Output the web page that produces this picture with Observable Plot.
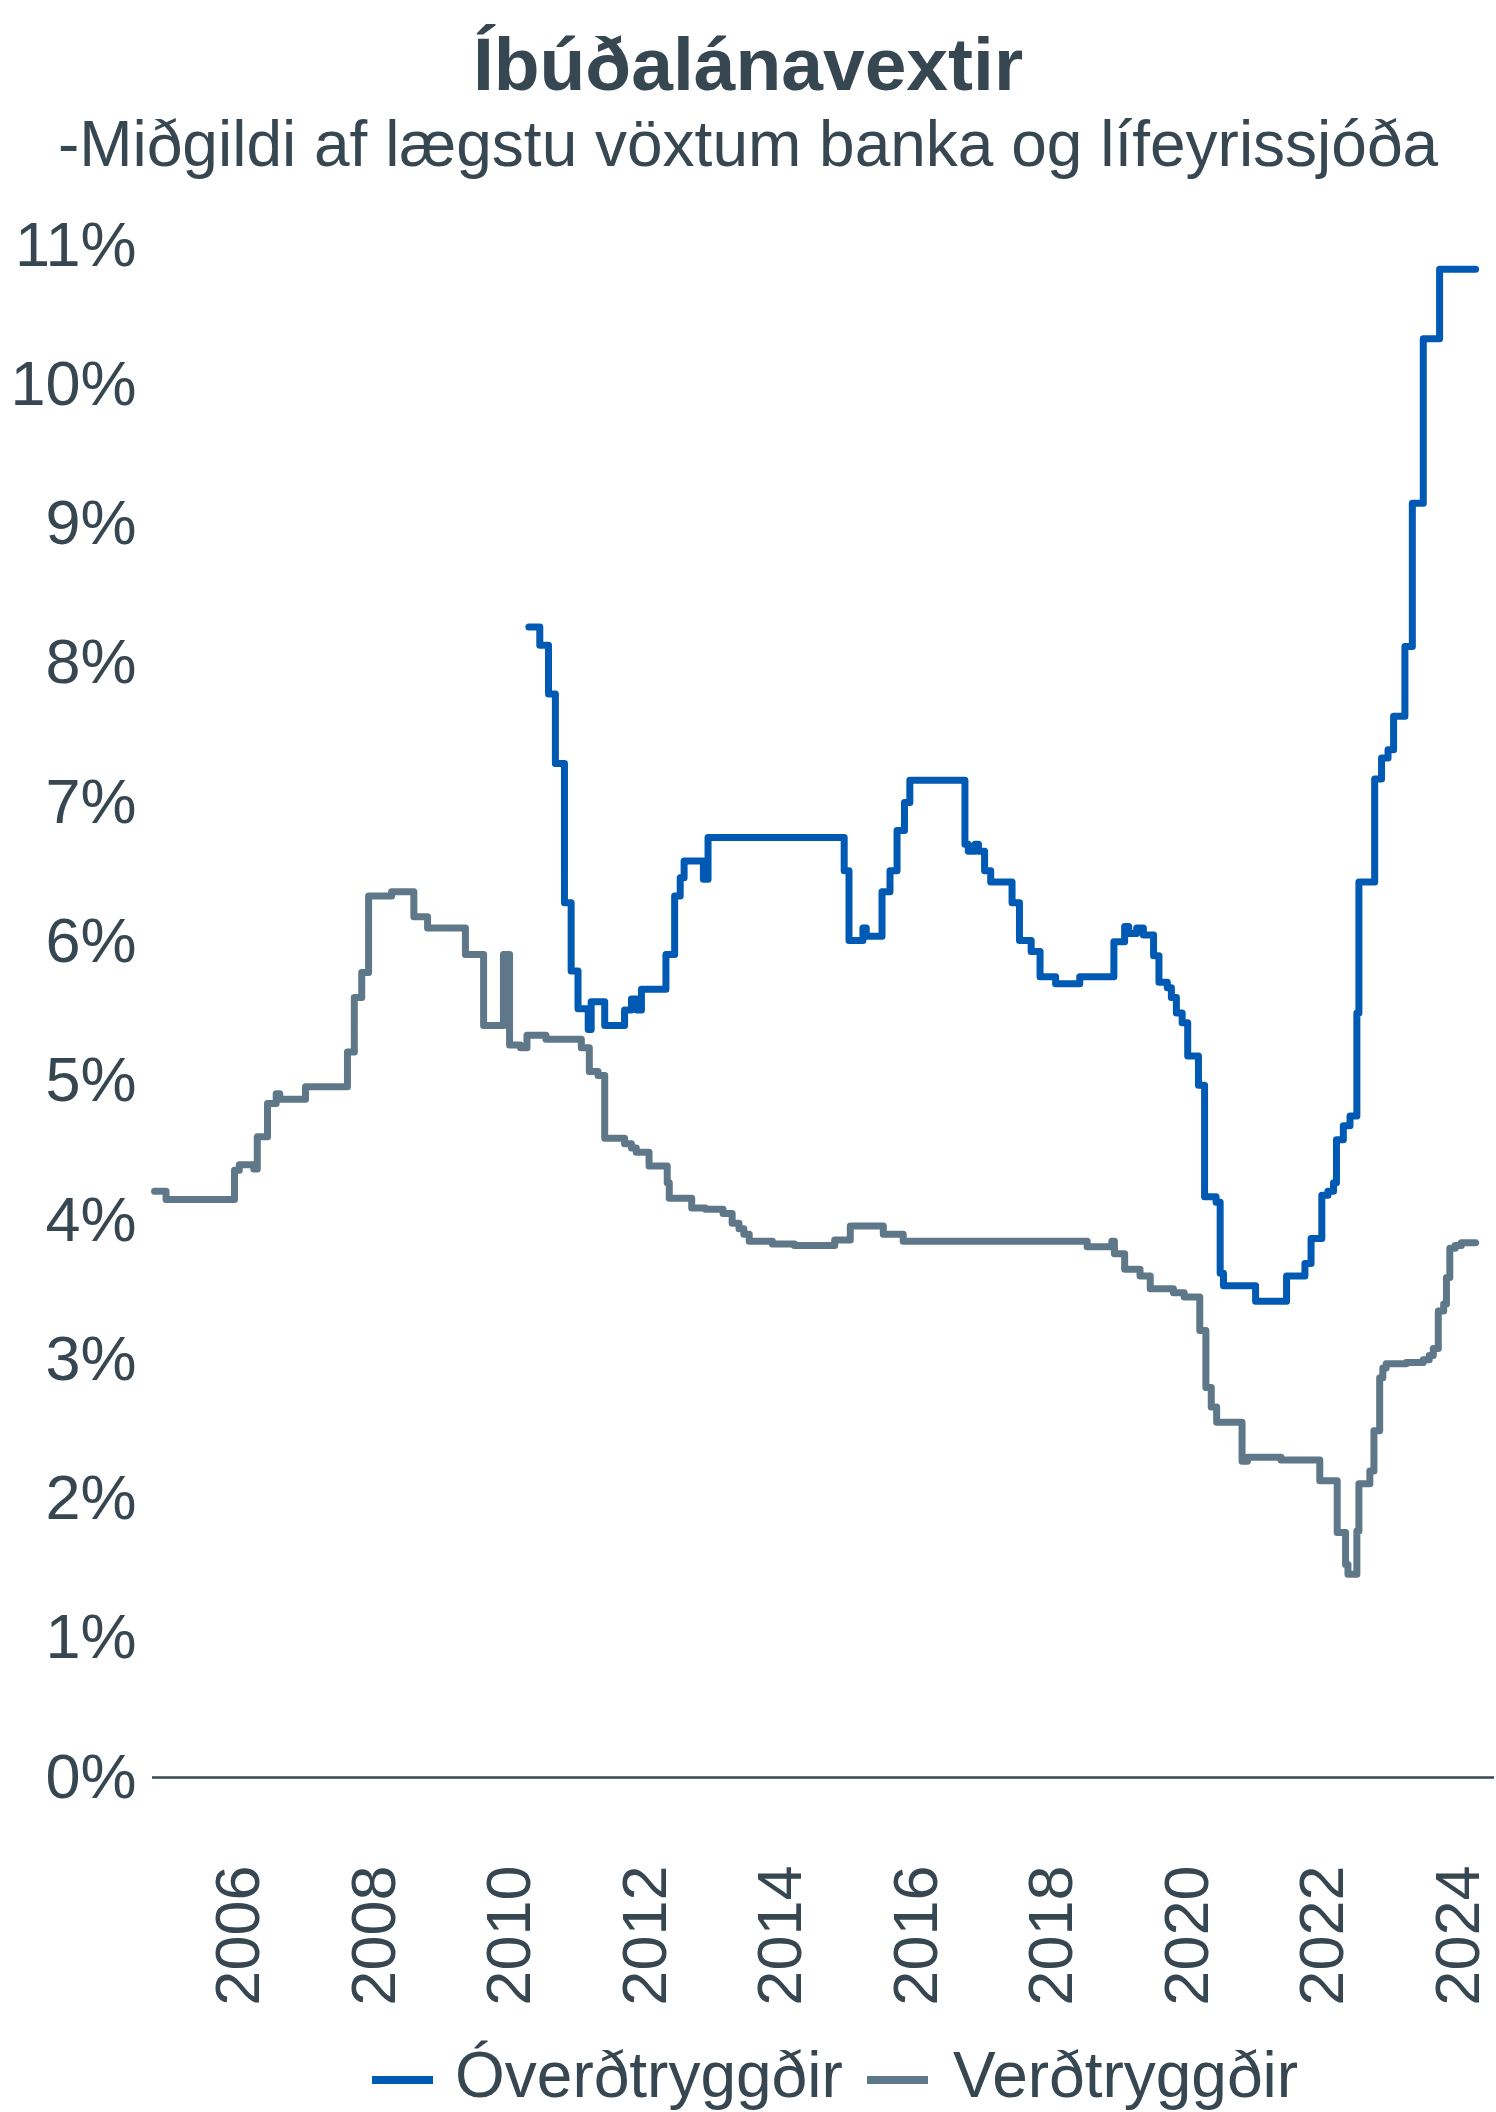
<!DOCTYPE html>
<html>
<head>
<meta charset="utf-8">
<script src="https://cdn.jsdelivr.net/npm/d3@7"></script>
<script src="https://cdn.jsdelivr.net/npm/@observablehq/plot@0.6"></script>
<style>
  html, body { margin: 0; padding: 0; background: #ffffff; }
  #page { position: relative; width: 1496px; height: 2112px; overflow: hidden; font-family: "Liberation Sans", Arial, sans-serif; color: #374752; }
  .title { position: absolute; left: 0; width: 1496px; text-align: center; line-height: 1; white-space: nowrap; }
  #chart { position: absolute; left: 0; top: 190px; }
  .legend-item { position: absolute; line-height: 1; font-size: 64px; white-space: nowrap; }
  .swatch { position: absolute; height: 8px; width: 61px; }
</style>
</head>
<body>
<div id="page">
  <div class="title" id="title" style="top:27px;font-size:75px;font-weight:bold;"></div>
  <div class="title" id="subtitle" style="top:112px;font-size:64px;"></div>
  <div id="chart"></div>
  <div id="legend"></div>
</div>
<script>
// ---- Data ----
const titleText = "Íbúðalánavextir";
const subtitleText = "-Miðgildi af lægstu vöxtum banka og lífeyrissjóða";
const seriesNames = ["Óverðtryggðir", "Verðtryggðir"];
const seriesColors = ["#005ab4", "#5f7889"];

// Óverðtryggðir (non-indexed) – change points, value in %
const overDates = [
  "2010-04-11","2010-06-09","2010-07-26","2010-09-01","2010-10-20","2010-11-25",
  "2011-01-01","2011-02-25","2011-03-13","2011-05-25","2011-09-09","2011-10-16",
  "2011-11-14","2011-12-09","2012-04-19","2012-06-05","2012-07-05","2012-07-26",
  "2012-11-07","2012-12-02","2014-12-06","2015-01-01","2015-03-17","2015-04-04",
  "2015-06-28","2015-08-10","2015-09-17","2015-10-27","2015-11-25","2016-09-17",
  "2016-10-05","2016-11-11","2016-11-29","2017-01-01","2017-02-03","2017-05-29",
  "2017-07-08","2017-09-09","2017-10-27","2018-01-19","2018-05-29","2018-11-29",
  "2019-01-26","2019-02-17","2019-04-01","2019-05-07","2019-07-01","2019-07-30",
  "2019-09-13","2019-10-05","2019-11-01","2019-12-02","2020-01-01","2020-02-28",
  "2020-04-01","2020-06-02","2020-06-24","2020-07-12","2021-01-01","2021-06-17",
  "2021-09-24","2021-10-27","2021-12-24","2022-01-26","2022-02-25","2022-03-13",
  "2022-04-19","2022-05-25","2022-07-01","2022-07-12","2022-10-05","2022-11-11",
  "2022-12-16","2023-01-15","2023-03-17","2023-04-26","2023-06-24","2023-09-20",
  "2024-04-01"
];
const overValues = [
  8.26, 8.13, 7.78, 7.28, 6.28, 5.79,
  5.52, 5.37, 5.57, 5.40, 5.51, 5.59,
  5.51, 5.66, 5.91, 6.33, 6.46, 6.58,
  6.45, 6.75, 6.51, 6.01, 6.10, 6.04,
  6.36, 6.51, 6.80, 7.00, 7.16, 6.70,
  6.65, 6.70, 6.65, 6.51, 6.43, 6.28,
  6.01, 5.93, 5.75, 5.70, 5.75, 6.00,
  6.11, 6.06, 6.10, 6.05, 5.90, 5.71,
  5.67, 5.60, 5.49, 5.42, 5.18, 4.97,
  4.17, 4.13, 3.62, 3.53, 3.42, 3.60,
  3.69, 3.87, 4.18, 4.21, 4.27, 4.58,
  4.68, 4.75, 5.49, 6.43, 7.17, 7.32,
  7.38, 7.62, 8.12, 9.15, 10.33, 10.83,
  10.83
];

// Verðtryggðir (CPI-indexed) – change points, value in %
const verdDates = [
  "2004-10-01","2004-12-02","2005-12-06","2006-01-01","2006-03-20","2006-04-08",
  "2006-06-02","2006-07-19","2006-08-07","2006-12-24","2007-08-07","2007-09-13",
  "2007-10-23","2007-11-29","2008-04-01","2008-07-30","2008-10-12","2009-05-04",
  "2009-08-10","2009-11-25","2009-12-28","2010-02-25","2010-04-01","2010-07-12",
  "2011-01-19","2011-03-03","2011-04-19","2011-05-25","2011-09-09","2011-10-16",
  "2011-11-11","2012-01-19","2012-04-26","2012-05-07","2012-09-05","2012-11-18",
  "2013-02-21","2013-04-11","2013-05-18","2013-06-13","2013-07-12","2013-11-14",
  "2014-03-13","2014-10-16","2015-01-08","2015-07-05","2015-10-20","2018-07-08",
  "2018-11-18","2018-12-02","2019-01-26","2019-04-19","2019-06-13","2019-10-16",
  "2019-12-13","2020-03-06","2020-04-08","2020-05-07","2020-06-05","2020-10-20",
  "2020-11-18","2021-05-18","2021-12-13","2022-03-17","2022-05-01","2022-05-14",
  "2022-07-01","2022-07-12","2022-09-09","2022-10-01","2022-11-01","2022-11-18",
  "2022-12-06","2023-03-24","2023-06-24","2023-07-26","2023-08-17","2023-09-13",
  "2023-10-12","2023-10-27","2023-11-14","2023-12-13","2024-01-15","2024-04-01"
];
const verdValues = [
  4.21, 4.15, 4.36, 4.40, 4.37, 4.60,
  4.84, 4.91, 4.87, 4.96, 5.21, 5.60,
  5.78, 6.33, 6.36, 6.18, 6.10, 5.91,
  5.40, 5.91, 5.26, 5.24, 5.33, 5.30,
  5.24, 5.07, 5.04, 4.59, 4.55, 4.52,
  4.49, 4.39, 4.27, 4.16, 4.09, 4.08,
  4.05, 3.98, 3.94, 3.90, 3.85, 3.83,
  3.82, 3.86, 3.96, 3.90, 3.85, 3.81,
  3.85, 3.76, 3.65, 3.60, 3.51, 3.48,
  3.45, 3.21, 2.80, 2.66, 2.55, 2.27,
  2.30, 2.28, 2.13, 1.76, 1.53, 1.46,
  1.77, 2.11, 2.20, 2.49, 2.87, 2.94,
  2.97, 2.98, 3.00, 3.03, 3.08, 3.35,
  3.40, 3.59, 3.80, 3.82, 3.84, 3.84
];

const yTicks = [0, 1, 2, 3, 4, 5, 6, 7, 8, 9, 10, 11];
const xTickYears = [2006, 2008, 2010, 2012, 2014, 2016, 2018, 2020, 2022, 2024];
const xDomain = ["2004-09-20", "2024-07-12"];

// ---- Build tables ----
const overData = overDates.map((d, i) => ({date: new Date(d), value: overValues[i]}));
const verdData = verdDates.map((d, i) => ({date: new Date(d), value: verdValues[i]}));
const xTicks = xTickYears.map(y => new Date(Date.UTC(y, 0, 1)));

document.getElementById("title").textContent = titleText;
document.getElementById("subtitle").textContent = subtitleText;

const textColor = "#374752";
const chart = Plot.plot({
  width: 1496,
  height: 1850,
  marginTop: 55,
  marginBottom: 263,
  marginLeft: 152,
  marginRight: 2,
  style: {
    fontFamily: "'Liberation Sans', Arial, sans-serif",
    fontSize: "63px",
    color: textColor,
    background: "#ffffff",
    overflow: "visible"
  },
  x: {type: "utc", domain: xDomain.map(d => new Date(d))},
  y: {domain: [0, 11]},
  marks: [
    Plot.ruleY([0], {stroke: textColor, strokeWidth: 2.5}),
    Plot.line(verdData, {x: "date", y: "value", stroke: seriesColors[1], strokeWidth: 7, curve: "step-after"}),
    Plot.line(overData, {x: "date", y: "value", stroke: seriesColors[0], strokeWidth: 7, curve: "step-after"}),
    Plot.axisY({ticks: yTicks, tickFormat: d => d + "%", tickSize: 0, tickPadding: 16, label: null, fontSize: 63}),
    Plot.axisX({ticks: xTicks, tickFormat: d => String(d.getUTCFullYear()), tickRotate: -90, tickSize: 0, tickPadding: 88, label: null, fontSize: 63})
  ]
});
document.getElementById("chart").appendChild(chart);

// ---- Legend ----
const legend = document.getElementById("legend");
const legendPos = [{swatch: 372, text: 455}, {swatch: 867, text: 953}];
seriesNames.forEach((name, i) => {
  const sw = document.createElement("div");
  sw.className = "swatch";
  sw.style.left = legendPos[i].swatch + "px";
  sw.style.top = "2076px";
  sw.style.background = seriesColors[i];
  legend.appendChild(sw);
  const t = document.createElement("div");
  t.className = "legend-item";
  t.style.left = legendPos[i].text + "px";
  t.style.top = "2043px";
  t.textContent = name;
  legend.appendChild(t);
});
</script>
</body>
</html>
